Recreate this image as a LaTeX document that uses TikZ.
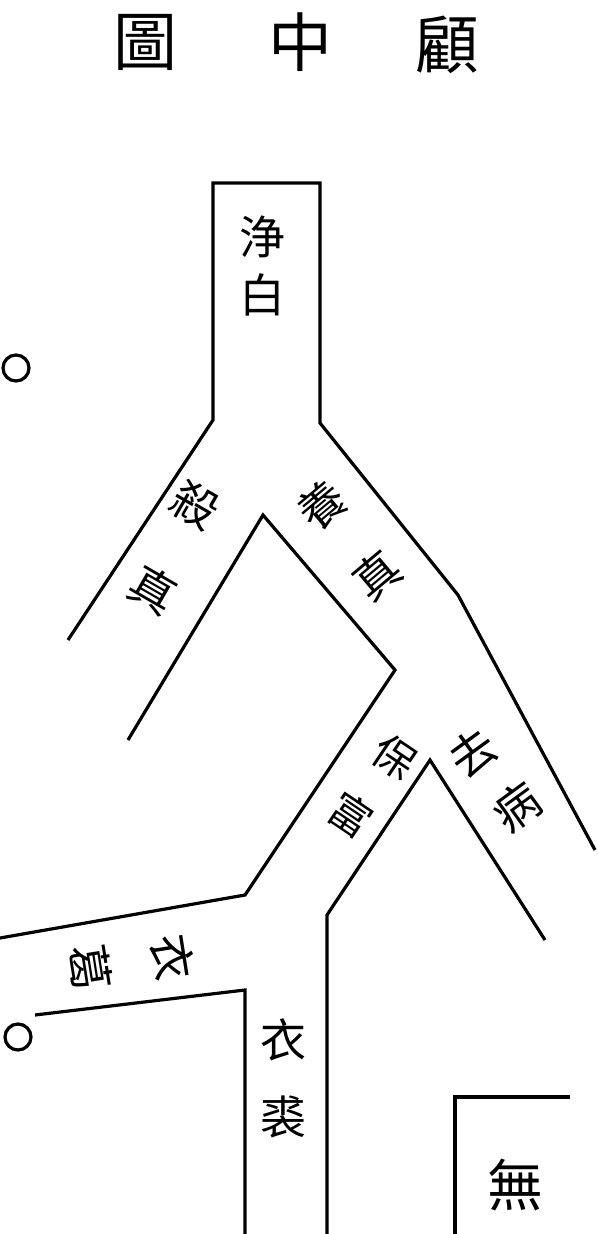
\documentclass[tikz,border=0pt]{standalone}
\usepackage{fontspec}
\newfontfamily\cjk{Noto Sans CJK TC}
\begin{document}
\begin{tikzpicture}[x=1pt,y=-1pt,line width=3.2pt,
    zi/.style={font=\cjk\fontsize{46}{46}\selectfont,inner sep=0pt},
    ti/.style={font=\cjk\fontsize{64}{64}\selectfont,inner sep=0pt}]
        \useasboundingbox (0,0) rectangle (597,1234);
        % title
        \node[ti] (tu) at (145,42) {圖};
        \node[ti] (zhong) at (300,42) {中};
        \node[ti] (gu) at (447,45) {顧};
        % stem and outer edges
        \draw (68,640) -- (213,420) -- (213,183) -- (320,183) -- (320,423) -- (458,595) -- (595,850);
        % inner edges
        \draw (128,740) -- (263,515) -- (395,670) -- (245,895) -- (0,938);
        \draw (327,1234) -- (327,915) -- (430,760) -- (545,940);
        \draw (35,1015) -- (245,990) -- (245,1234);
        % corner of the next box
        \draw (455,1234) -- (455,1097) -- (570,1097);
        \draw (16,368) circle (13);
        \draw (18,1037) circle (13);
        % labels
        \node[zi] (jing) at (262,237) {浄};
        \node[zi] (bai) at (262,295) {白};
        \node[zi,rotate=-30] (sha) at (195,505) {殺};
        \node[zi,rotate=-30] (zhenl) at (153,590) {真};
        \node[zi,rotate=40] (yang) at (322,505) {養};
        \node[zi,rotate=40] (zhenr) at (377,575) {真};
        \node[zi,rotate=-34,font=\cjk\fontsize{42}{42}\selectfont] (bao) at (395,757) {保};
        \node[zi,rotate=-34,font=\cjk\fontsize{42}{42}\selectfont] (fu) at (351,815) {富};
        \node[zi,rotate=36] (qu) at (473,753) {去};
        \node[zi,rotate=36] (bing) at (517,807) {病};
        \node[zi,rotate=-81] (yil) at (173,957) {衣};
        \node[zi,rotate=-81] (ge) at (90,967) {葛};
        \node[zi] (yi) at (283,1040) {衣};
        \node[zi] (qiu) at (283,1117) {裘};
        \node[zi,font=\cjk\fontsize{56}{56}\selectfont] (wu) at (515,1185) {無};
        \end{tikzpicture}
\end{document}
